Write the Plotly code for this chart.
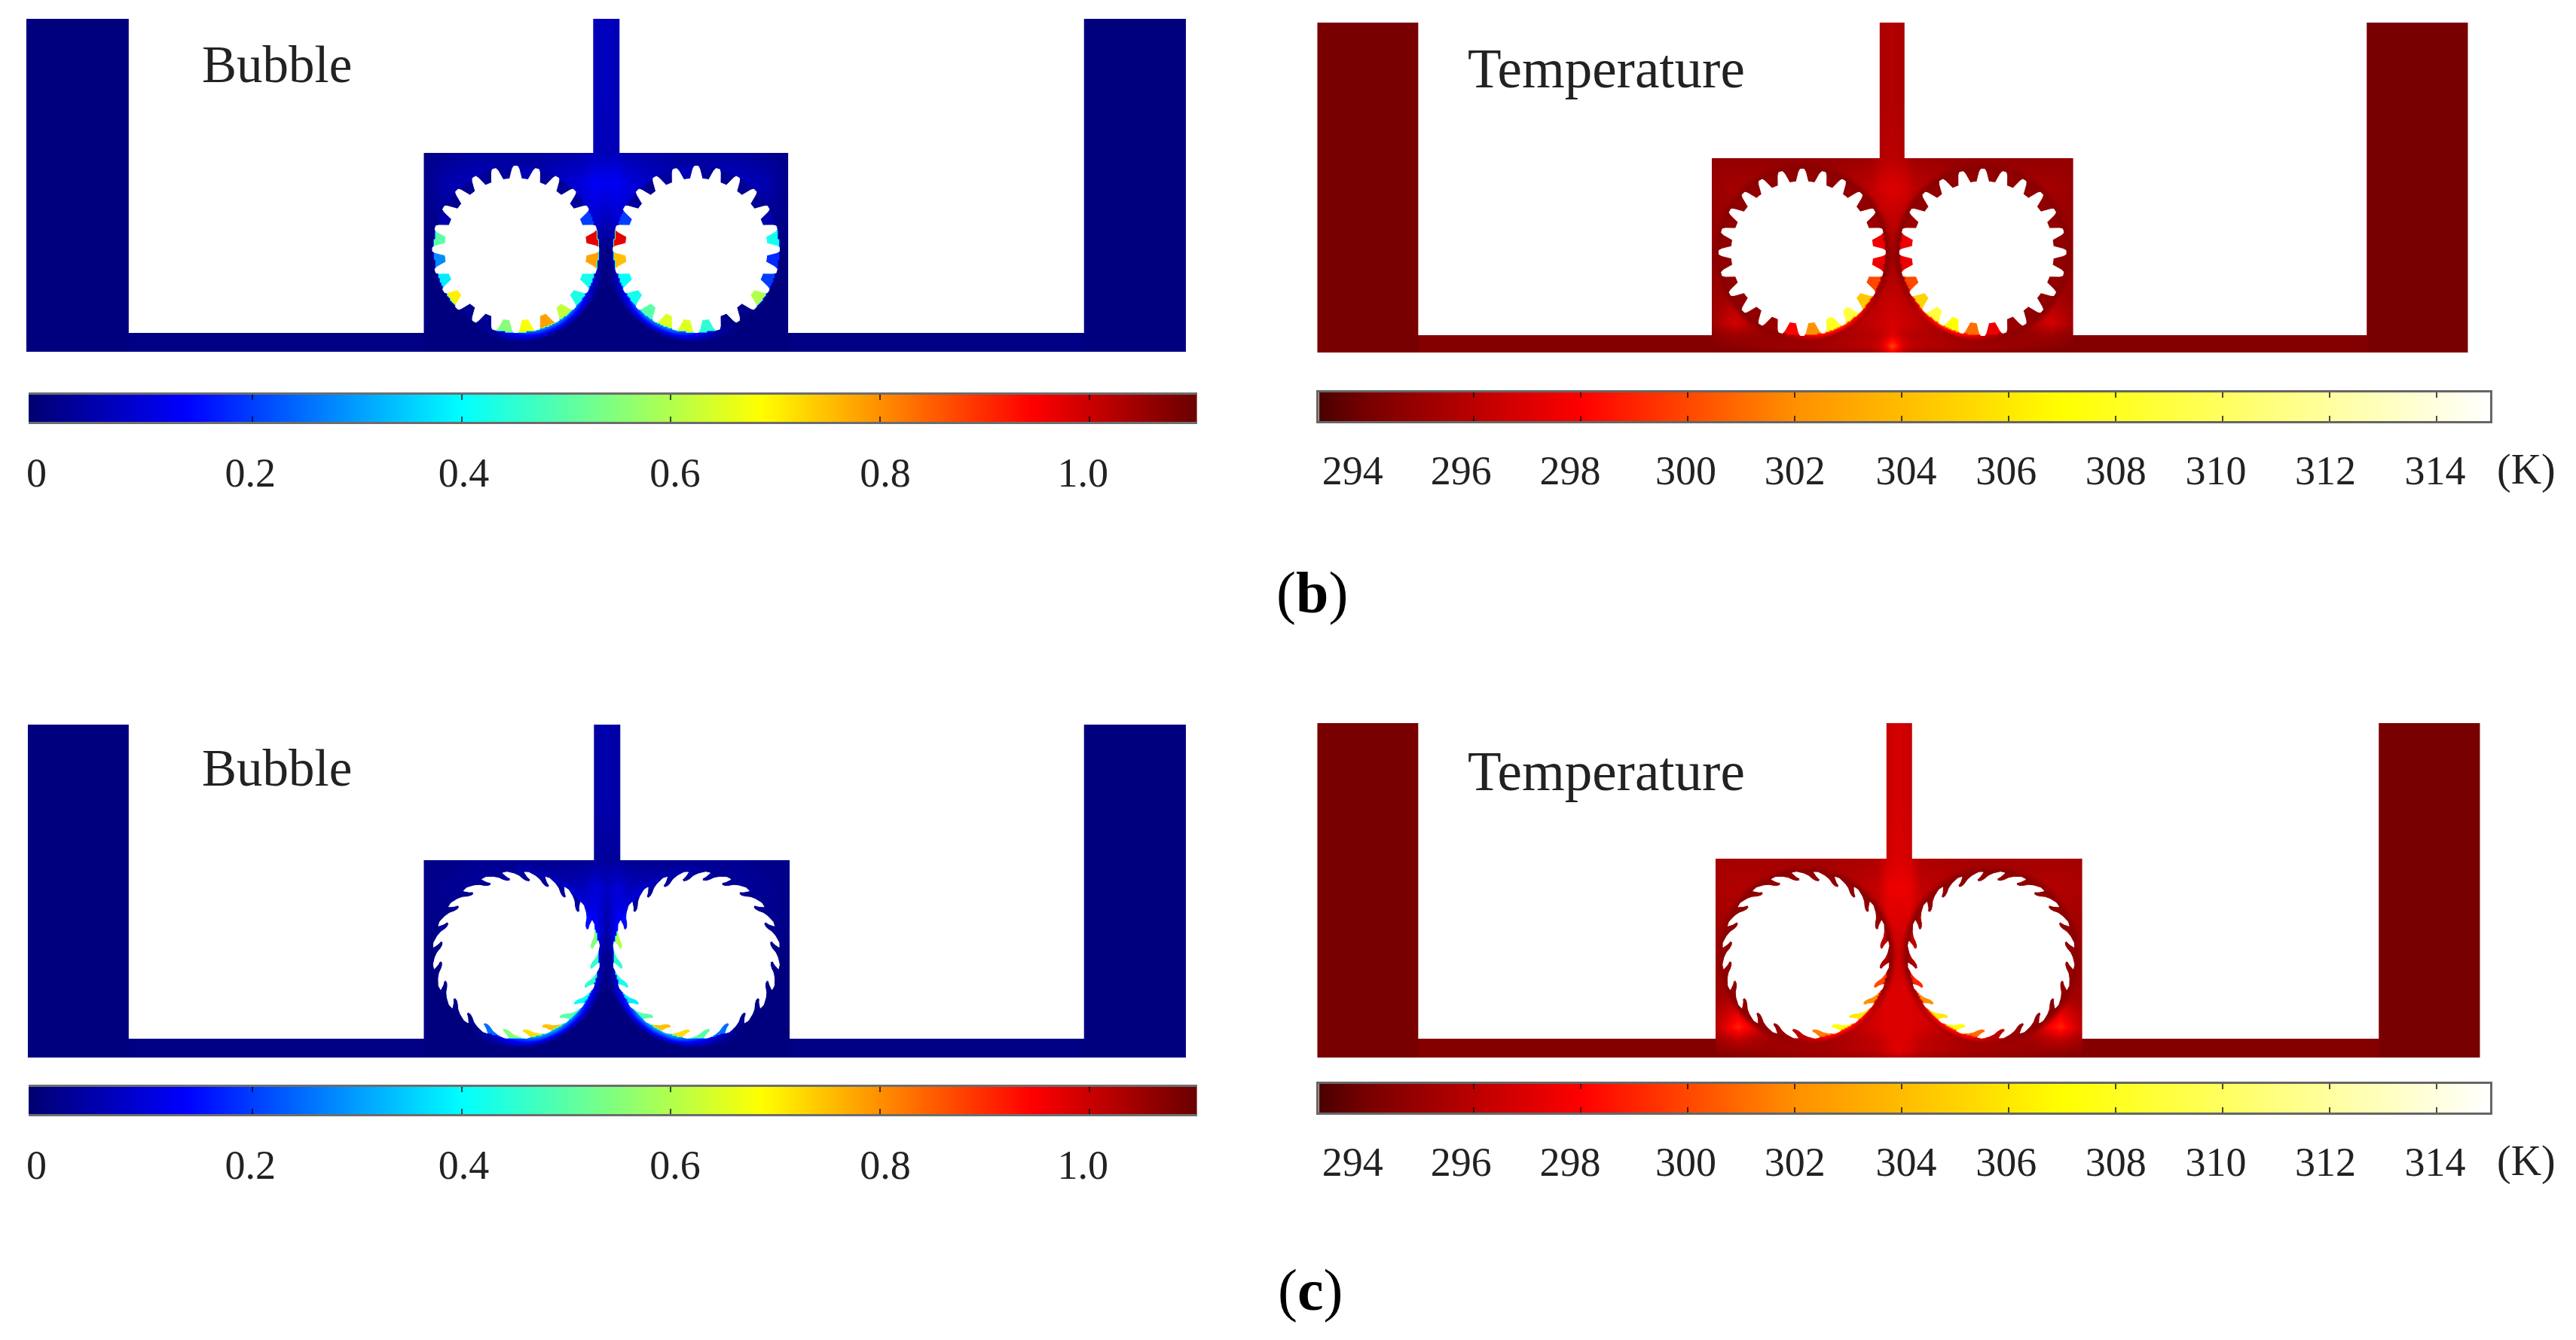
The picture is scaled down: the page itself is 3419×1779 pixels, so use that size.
import numpy as np
import plotly.graph_objects as go

W, H = 3419, 1779

# ---------- colour scales (value, colour) ----------
BUBBLE_STOP_VALUES = [-0.014, 0.0, 0.137, 0.4, 0.686, 0.944, 1.103]
BUBBLE_STOP_COLORS = ["#000070", "#00007f", "#0000ff", "#00ffff", "#ffff00", "#ff0000", "#6a0000"]
TEMP_STOP_VALUES = [293.1, 294.0, 298.0, 302.0, 307.0, 315.0]
TEMP_STOP_COLORS = ["#4a0000", "#780000", "#ff0000", "#ff9000", "#ffff00", "#ffffff"]

# ---------- colour-bar ticks and labels ----------
BUBBLE_TICKS = [0.2, 0.4, 0.6, 0.8, 1.0]
BUBBLE_LABEL_POS = [-0.0065, 0.198, 0.402, 0.604, 0.805, 0.994]
BUBBLE_LABELS = ["0", "0.2", "0.4", "0.6", "0.8", "1.0"]
TEMP_TICKS = [296, 298, 300, 302, 304, 306, 308, 310, 312, 314]
TEMP_LABEL_POS = [293.73, 295.76, 297.8, 299.96, 302.0, 304.08, 305.95, 308.0, 309.87, 311.92, 313.97]
TEMP_LABELS = ["294", "296", "298", "300", "302", "304", "306", "308", "310", "312", "314"]

# ---------- field tables: columns are fractions of chamber width, rows fractions
# of chamber height (stem above 0, bottom channel below 0.91) ----------
COL_FRAC = [0, .06, .15, .3, .44, .47, .5, .53, .56, .7, .85, .94, 1]
ROW_FRAC = [-.3, 0, .15, .35, .5, .7, .85, .91, .97, 1]

BUBBLE_B_FIELD = [
    [.05, .05, .05, .05, .05, .06, .07, .06, .05, .05, .05, .05, .05],
    [.01, .02, .03, .03, .05, .06, .06, .06, .05, .03, .03, .02, .01],
    [.01, .05, .07, .05, .10, .13, .12, .13, .10, .05, .07, .05, .01],
    [.01, .02, .02, .02, .08, .08, .06, .08, .08, .02, .02, .02, .01],
    [0, 0, 0, 0, .03, .03, 0, .03, .03, 0, 0, 0, 0],
    [0, 0, 0, 0, 0, 0, 0, 0, 0, 0, 0, 0, 0],
    [0, 0, 0, 0, 0, 0, 0, 0, 0, 0, 0, 0, 0],
    [0, 0, 0, 0, 0, 0, 0, 0, 0, 0, 0, 0, 0],
    [0, 0, 0, 0, 0, 0, 0, 0, 0, 0, 0, 0, 0],
    [0, 0, 0, 0, 0, 0, 0, 0, 0, 0, 0, 0, 0],
]
BUBBLE_C_FIELD = [
    [.03, .03, .03, .03, .03, .04, .05, .04, .03, .03, .03, .03, .03],
    [.01, .01, .02, .02, .02, .03, .03, .03, .02, .02, .02, .01, .01],
    [.01, .02, .03, .03, .07, .10, .07, .10, .07, .03, .03, .02, .01],
    [.01, .01, .01, .01, .08, .12, .04, .12, .08, .01, .01, .01, .01],
    [0, 0, 0, 0, .01, .02, 0, .02, .01, 0, 0, 0, 0],
    [0, 0, 0, 0, 0, 0, 0, 0, 0, 0, 0, 0, 0],
    [0, 0, 0, 0, 0, 0, 0, 0, 0, 0, 0, 0, 0],
    [0, 0, 0, 0, 0, 0, 0, 0, 0, 0, 0, 0, 0],
    [0, 0, 0, 0, 0, 0, 0, 0, 0, 0, 0, 0, 0],
    [0, 0, 0, 0, 0, 0, 0, 0, 0, 0, 0, 0, 0],
]
TEMP_B_FIELD = [
    [295, 295, 295, 295, 295, 295.5, 295.8, 295.5, 295, 295, 295, 295, 295],
    [294.8, 294.8, 294.8, 294.8, 295.2, 295.8, 296, 295.8, 295.2, 294.8, 294.8, 294.8, 294.8],
    [295, 295.3, 295.3, 295.2, 296, 296.8, 297, 296.8, 296, 295.2, 295.3, 295.3, 295],
    [294.9, 295, 295, 295, 295.5, 295.8, 296, 295.8, 295.5, 295, 295, 295, 294.9],
    [294.8, 294.9, 294.9, 294.9, 295, 295.2, 295.2, 295.2, 295, 294.9, 294.9, 294.9, 294.8],
    [295, 295.2, 295, 295, 295.8, 296, 296.2, 296, 295.8, 295, 295, 295.2, 295],
    [295.2, 296.8, 295, 295, 296.2, 296.5, 296.8, 296.5, 296.2, 295, 295, 296.8, 295.2],
    [294.6, 295.2, 294.9, 295.1, 295.8, 296.2, 297, 296.2, 295.8, 295.1, 294.9, 295.2, 294.6],
    [294.4, 294.6, 294.9, 295.3, 296, 296.8, 300, 296.8, 296, 295.3, 294.9, 294.6, 294.4],
    [294.2, 294.3, 294.5, 294.8, 295.2, 296, 298, 296, 295.2, 294.8, 294.5, 294.3, 294.2],
]
TEMP_C_FIELD = [
    [295.8, 295.8, 295.8, 295.8, 295.8, 296.4, 296.8, 296.4, 295.8, 295.8, 295.8, 295.8, 295.8],
    [295.3, 295.3, 295.3, 295.3, 295.6, 296.6, 297, 296.6, 295.6, 295.3, 295.3, 295.3, 295.3],
    [295.5, 295.7, 295.7, 295.6, 296.2, 297.4, 297.5, 297.4, 296.2, 295.6, 295.7, 295.7, 295.5],
    [295.2, 295.3, 295.3, 295.3, 295.8, 296.8, 296.8, 296.8, 295.8, 295.3, 295.3, 295.3, 295.2],
    [295, 295, 295, 295, 295.5, 296.4, 296.5, 296.4, 295.5, 295, 295, 295, 295],
    [295.2, 295.5, 295, 295, 296.6, 297, 297, 297, 296.6, 295, 295, 295.5, 295.2],
    [296, 299, 295.2, 295, 296.8, 297, 297, 297, 296.8, 295, 295.2, 299, 296],
    [295.2, 296.2, 295.2, 295.3, 296.2, 296.8, 297, 296.8, 296.2, 295.3, 295.2, 296.2, 295.2],
    [294.6, 294.9, 295, 295.3, 296, 296.6, 297.2, 296.6, 296, 295.3, 295, 294.9, 294.6],
    [294.3, 294.4, 294.6, 294.9, 295.4, 295.8, 296, 295.8, 295.4, 294.9, 294.6, 294.4, 294.3],
]

# ---------- values in the 24 tooth gaps of each gear (going round from the inner side) ----------
BUBBLE_B_GAPS_L = [.78, .42, .43, .62, .78, .68, .55, .02, .02, .70, .38, .28, .50, .05, .02, .02, .02, .03, .06, .03, .02, .03, .20, .97]
BUBBLE_B_GAPS_R = [.75, .40, .42, .50, .65, .65, .45, .01, .01, .60, .20, .18, .42, .05, .02, .02, .02, .03, .06, .03, .02, .03, .20, .97]
TEMP_B_GAPS_L = [297.5, 300, 304.5, 309, 308, 302, 298, 295, 294.7, 294.7, 294.7, 294.7, 294.7, 294.7, 294.7, 294.7, 294.7, 294.7, 294.7, 294.7, 294.7, 294.7, 295, 297.5]
TEMP_B_GAPS_R = [297.5, 300, 305, 309, 307, 301, 297.5, 295, 294.7, 294.7, 294.7, 294.7, 294.7, 294.7, 294.7, 294.7, 294.7, 294.7, 294.7, 294.7, 294.7, 294.7, 295, 297.5]
BUBBLE_C_GAPS_L = [.45, .45, .40, .50, .75, .72, .55, .25, .02, .01, .01, .01, .01, .02, .02, .02, .02, .03, .03, .03, .03, .03, .15, .55]
BUBBLE_C_GAPS_R = [.45, .42, .38, .50, .75, .72, .50, .25, .02, .01, .01, .01, .01, .02, .02, .02, .02, .03, .03, .03, .03, .03, .15, .60]
TEMP_C_GAPS_L = [295.5, 300, 302, 306, 307, 301.5, 296, 295, 294.7, 294.7, 294.7, 294.7, 294.7, 294.7, 294.7, 294.7, 294.7, 294.7, 294.7, 294.7, 294.7, 294.7, 295, 296]
TEMP_C_GAPS_R = [295.5, 299, 302, 306, 307, 301, 296, 295, 294.7, 294.7, 294.7, 294.7, 294.7, 294.7, 294.7, 294.7, 294.7, 294.7, 294.7, 294.7, 294.7, 294.7, 295, 296]

# ---------- glow around each gear, against angle ----------
GLOW_ANGLES = [0, 15, 30, 45, 60, 75, 90, 105, 120]
BUBBLE_B_GLOW = [0, .03, .12, .24, .30, .28, .16, .04, 0]
BUBBLE_C_GLOW = [.03, .06, .16, .28, .34, .34, .20, .08, 0]
TEMP_B_GLOW = [0, 0, 1, 3.5, 6, 5, 2, .3, 0]
TEMP_C_GLOW = [0, 0, 1, 3.5, 5, 4, 1.5, .3, 0]

# ---------- tooth outlines: (radius, angle offset) ----------
STRAIGHT_TOOTH = [(94, -4.8), (100, -3.5), (107, -2.4), (110.5, -1.3), (110.5, 1.3), (107, 2.4), (100, 3.5), (94, 4.8)]
SAW_TOOTH = [(99, -3), (102, -2.5), (105, -5), (110.5, -7.5), (111, -4.5), (108, 0.5), (105, 4), (101, 7), (99, 9.5)]

# ---------- panel geometry ----------
PANELS = [
    dict(kind="bubble", field=BUBBLE_B_FIELD, gaps=(BUBBLE_B_GAPS_L, BUBBLE_B_GAPS_R), glow=BUBBLE_B_GLOW,
         block=(33, 168, 1437, 1570), top=26, chamber=(560, 1044, 203), channel_top=442, bottom=465, stem=(785, 820),
         gear=(682, 922, 331, 110), tooth=STRAIGHT_TOOTH, tooth0=0, gap0=7.5, ring=None),
    dict(kind="temp", field=TEMP_B_FIELD, gaps=(TEMP_B_GAPS_L, TEMP_B_GAPS_R), glow=TEMP_B_GLOW,
         block=(1748, 1881, 3141, 3273), top=31, chamber=(2271, 2751, 210), channel_top=445, bottom=467, stem=(2494, 2527),
         gear=(2391, 2631, 335, 110), tooth=STRAIGHT_TOOTH, tooth0=0, gap0=7.5, ring=294.5),
    dict(kind="bubble", field=BUBBLE_C_FIELD, gaps=(BUBBLE_C_GAPS_L, BUBBLE_C_GAPS_R), glow=BUBBLE_C_GLOW,
         block=(35, 168, 1437, 1570), top=963, chamber=(560, 1046, 1142), channel_top=1379, bottom=1403, stem=(786, 821),
         gear=(683, 922, 1268, 110), tooth=SAW_TOOTH, tooth0=-2, gap0=4, ring=None),
    dict(kind="temp", field=TEMP_C_FIELD, gaps=(TEMP_C_GAPS_L, TEMP_C_GAPS_R), glow=TEMP_C_GLOW,
         block=(1748, 1881, 3157, 3290), top=961, chamber=(2276, 2763, 1140), channel_top=1379, bottom=1403, stem=(2503, 2537),
         gear=(2396, 2642, 1268, 110), tooth=SAW_TOOTH, tooth0=-2, gap0=4, ring=294.6),
]

BARS = [
    dict(kind="bubble", x=(35, 1587), y=(524, 560), standoff=31),
    dict(kind="temp", x=(1749, 3305), y=(521, 559), standoff=29),
    dict(kind="bubble", x=(35, 1587), y=(1443, 1479), standoff=31),
    dict(kind="temp", x=(1749, 3305), y=(1439, 1477), standoff=29),
]
BUBBLE_RANGE = (-0.014, 1.103)
TEMP_RANGE = (293.1, 315.0)

TITLES = [("Bubble", 365, 86, 69), ("Temperature", 2131, 91, 73), ("Bubble", 365, 1020, 69), ("Temperature", 2131, 1024, 73)]
CAPTION_TEXTS = ["(<b>b</b>)", "(<b>c</b>)"]
CAPTION_POS = [(1740, 786), (1738, 1712)]
UNITS = [("(K)", 3353, 623), ("(K)", 3353, 1541)]
SERIF = "Liberation Serif"


def scale(values, colors):
    lo, hi = values[0], values[-1]
    return [[(v - lo) / (hi - lo), c] for v, c in zip(values, colors)]


BUBBLE_SCALE = scale(BUBBLE_STOP_VALUES, BUBBLE_STOP_COLORS)
TEMP_SCALE = scale(TEMP_STOP_VALUES, TEMP_STOP_COLORS)


def raster(p, step=2.0):
    bl, br = p["block"][0], p["block"][3]
    xv = np.arange(bl, br + step, step)
    yv = np.arange(p["top"], p["bottom"] + step, step)
    cl, cr, ct = p["chamber"]
    fx = (xv - cl) / (cr - cl)
    fy = (yv - ct) / (p["bottom"] - ct)
    table = np.array(p["field"], float)
    a = np.array([np.interp(fx, COL_FRAC, row) for row in table])
    z = np.array([np.interp(fy, ROW_FRAC, a[:, j]) for j in range(len(xv))]).T
    X, Y = np.meshgrid(xv, yv)
    base = 294.0 if p["kind"] == "temp" else 0.0
    chan = 294.35 if p["kind"] == "temp" else 0.005
    z[(X < cl) | (X > cr)] = chan
    z[(X < p["block"][1]) | (X > p["block"][2])] = base
    cxl, cxr, cy, R = p["gear"]
    for cx, sign, gaps in ((cxl, 1, p["gaps"][0]), (cxr, -1, p["gaps"][1])):
        dx, dy = (X - cx) * sign, Y - cy
        r = np.hypot(dx, dy)
        th = np.degrees(np.arctan2(dy, dx)) % 360
        if p["ring"] is not None:
            t = np.clip((r - (R + 1)) / 11.0, 0, 1)
            t = t * t * (3 - 2 * t)
            z = np.where(r < R + 12, p["ring"] * (1 - t) + z * t, z)
        g = np.interp(np.where(th > 270, th - 360, th), GLOW_ANGLES, p["glow"])
        w = 8.0 if p["kind"] == "temp" else 13.0
        falloff = np.clip(1 - (r - R) / w, 0, 1)
        z = np.where(r >= R, z + g * falloff, z)
        idx = (np.floor(((th - p["gap0"] + 7.5) % 360) / 15).astype(int)) % 24
        z = np.where(r < R, np.array(gaps)[idx], z)
    return xv, yv, z


def gear_outline(cx, cy, sign, tooth, tooth0):
    xs, ys = [], []
    for k in range(24):
        for rad, off in tooth:
            a = np.radians(tooth0 + 15 * k + off)
            xs.append(cx + sign * rad * np.cos(a))
            ys.append(cy + rad * np.sin(a))
    xs.append(xs[0])
    ys.append(ys[0])
    return xs, ys


fig = go.Figure()

for p in PANELS:
    xv, yv, z = raster(p)
    cs, rng = (BUBBLE_SCALE, BUBBLE_RANGE) if p["kind"] == "bubble" else (TEMP_SCALE, TEMP_RANGE)
    fig.add_trace(go.Heatmap(x0=xv[0], dx=xv[1] - xv[0], y0=yv[0], dy=yv[1] - yv[0], z=z.astype("float32"),
                             colorscale=cs, zmin=rng[0], zmax=rng[1], showscale=False, zsmooth="best",
                             hoverinfo="skip"))
    bl0, bl1, br0, br1 = p["block"]
    cl, cr, ct = p["chamber"]
    sl, sr = p["stem"]
    top, cht = p["top"] - 3, p["channel_top"]
    rects = [(bl1, cl, top, cht), (cr, br0, top, cht), (cl - 1, sl, top, ct), (sr, cr + 1, top, ct)]
    xs, ys = [], []
    for a, b, c, d in rects:
        xs += [a, b, b, a, a, None]
        ys += [c, c, d, d, c, None]
    fig.add_trace(go.Scatter(x=xs, y=ys, mode="lines", fill="toself", fillcolor="white",
                             line=dict(width=0), hoverinfo="skip"))
    cxl, cxr, cy, R = p["gear"]
    for cx, sign in ((cxl, 1), (cxr, -1)):
        gx, gy = gear_outline(cx, cy, sign, p["tooth"], p["tooth0"])
        fig.add_trace(go.Scatter(x=gx, y=gy, mode="lines", fill="toself", fillcolor="white",
                                 line=dict(width=1, color="white"), hoverinfo="skip"))

layout = dict(
    width=W, height=H, margin=dict(l=0, r=0, t=0, b=0), autosize=False,
    paper_bgcolor="white", plot_bgcolor="white", showlegend=False,
    xaxis=dict(range=[0, W], domain=[0, 1], visible=False, fixedrange=True),
    yaxis=dict(range=[H, 0], domain=[0, 1], visible=False, fixedrange=True),
)

n = 2
for bar in BARS:
    kind = bar["kind"]
    rng = BUBBLE_RANGE if kind == "bubble" else TEMP_RANGE
    cs = BUBBLE_SCALE if kind == "bubble" else TEMP_SCALE
    ticks = BUBBLE_TICKS if kind == "bubble" else TEMP_TICKS
    lab_pos = BUBBLE_LABEL_POS if kind == "bubble" else TEMP_LABEL_POS
    labels = BUBBLE_LABELS if kind == "bubble" else TEMP_LABELS
    line_col = "rgba(30,30,30,0.65)" if kind == "bubble" else "#666666"
    xk, xl, yk = n, n + 1, n
    dom_x = [bar["x"][0] / W, bar["x"][1] / W]
    dom_y = [1 - bar["y"][1] / H, 1 - bar["y"][0] / H]
    vals = np.linspace(rng[0], rng[1], 400)
    fig.add_trace(go.Heatmap(x=vals, y=[0, 1], z=[vals, vals], colorscale=cs, zmin=rng[0], zmax=rng[1],
                             showscale=False, zsmooth="best", hoverinfo="skip",
                             xaxis=f"x{xk}", yaxis=f"y{yk}"))
    fig.add_trace(go.Scatter(x=lab_pos, y=[0] * len(lab_pos), mode="markers", marker=dict(opacity=0),
                             hoverinfo="skip", xaxis=f"x{xl}", yaxis=f"y{yk}"))
    layout[f"xaxis{xk}"] = dict(domain=dom_x, range=list(rng), anchor=f"y{yk}", fixedrange=True,
                                tickmode="array", tickvals=ticks, showticklabels=False,
                                ticks="inside", ticklen=7, tickwidth=2, tickcolor="rgba(0,0,0,0.7)",
                                showline=True, linecolor=line_col, linewidth=3, mirror="ticks",
                                showgrid=False, zeroline=False)
    layout[f"xaxis{xl}"] = dict(domain=dom_x, range=list(rng), anchor=f"y{yk}", overlaying=f"x{xk}",
                                fixedrange=True, tickmode="array", tickvals=lab_pos, ticktext=labels,
                                ticks="", ticklabelstandoff=bar["standoff"], showline=False,
                                showgrid=False, zeroline=False,
                                tickfont=dict(family=SERIF, size=54, color="#222222"))
    layout[f"yaxis{yk}"] = dict(domain=dom_y, range=[0, 1], anchor=f"x{xk}", fixedrange=True,
                                showticklabels=False, ticks="", showgrid=False, zeroline=False,
                                showline=kind == "temp", linecolor=line_col, linewidth=3, mirror=True)
    n += 2

annotations = []
for text, x, y, size in TITLES:
    annotations.append(dict(text=text, x=x, y=y, xref="x", yref="y", showarrow=False,
                            xanchor="center", yanchor="middle",
                            font=dict(family=SERIF, size=size, color="#222222")))
for text, (x, y) in zip(CAPTION_TEXTS, CAPTION_POS):
    annotations.append(dict(text=text, x=x, y=y, xref="x", yref="y", showarrow=False,
                            xanchor="center", yanchor="middle",
                            font=dict(family=SERIF, size=78, color="black")))
for text, x, y in UNITS:
    annotations.append(dict(text=text, x=x, y=y, xref="x", yref="y", showarrow=False,
                            xanchor="center", yanchor="middle",
                            font=dict(family=SERIF, size=56, color="#222222")))
layout["annotations"] = annotations
fig.update_layout(**layout)

fig.write_html("out.html", config={"displayModeBar": False},
               post_script="document.body.style.margin='0';document.documentElement.style.overflow='hidden';")
